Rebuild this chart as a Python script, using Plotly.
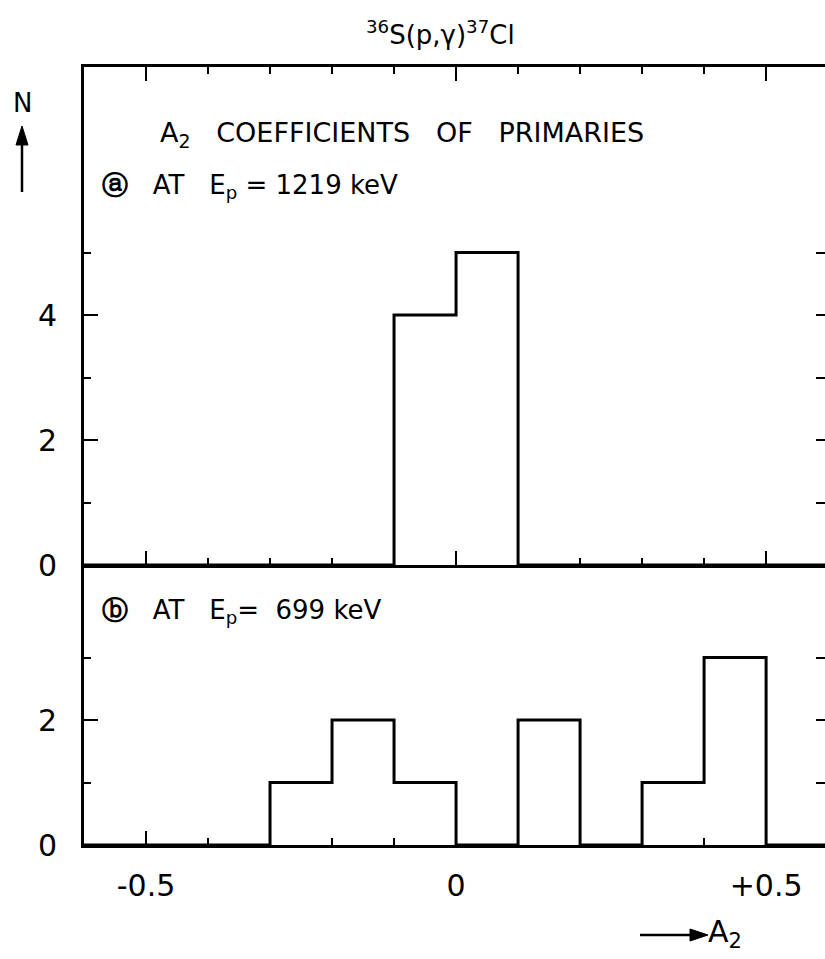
import plotly.graph_objects as go

# ---- data ----
bin_edges = [-0.6, -0.5, -0.4, -0.3, -0.2, -0.1, 0.0, 0.1, 0.2, 0.3, 0.4, 0.5, 0.6]
counts_a = [0, 0, 0, 0, 0, 4, 5, 0, 0, 0, 0, 0]   # (a) E_p = 1219 keV
counts_b = [0, 0, 0, 1, 2, 1, 0, 2, 0, 1, 3, 0]   # (b) E_p = 699 keV
x_major = [-0.5, 0, 0.5]
x_major_text = ["-0.5", "0", "+0.5"]
x_minor = [-0.4, -0.3, -0.2, -0.1, 0.1, 0.2, 0.3, 0.4]
ya_major = [0, 2, 4]
ya_minor = [1, 3, 5]
yb_major = [0, 2]
yb_minor = [1, 3]

# ---- geometry (pixels) ----
W, H = 825, 959
L, R, T, B = 84, 0, 67, 114
PW, PH = W - L - R, H - T - B
split_px = 565
bottom_frac = (H - B - split_px) / PH

def px(x):
    return (x - L) / PW

def py(y):
    return (H - B - y) / PH

def step(edges, counts):
    return list(edges), list(counts) + [0]

FONT = "DejaVu Sans"
LW = 2.6

fig = go.Figure()
xa, ya = step(bin_edges, counts_a)
xb, yb = step(bin_edges, counts_b)
fig.add_trace(go.Scatter(x=xa, y=ya, mode="lines", line=dict(shape="hv", color="black", width=3),
                         xaxis="x2", yaxis="y2", showlegend=False, hoverinfo="skip"))
fig.add_trace(go.Scatter(x=xb, y=yb, mode="lines", line=dict(shape="hv", color="black", width=3),
                         xaxis="x", yaxis="y", showlegend=False, hoverinfo="skip"))
# invisible traces to bind the right-hand tick axes
fig.add_trace(go.Scatter(x=[None], y=[None], xaxis="x2", yaxis="y3", showlegend=False, hoverinfo="skip"))
fig.add_trace(go.Scatter(x=[None], y=[None], xaxis="x", yaxis="y4", showlegend=False, hoverinfo="skip"))

xrange = [-0.6, 0.595]
tickfont = dict(family=FONT, size=30, color="black")
common_x = dict(range=xrange, showline=True, linecolor="black", linewidth=LW, showgrid=False,
                zeroline=False, ticks="inside", ticklen=14, tickwidth=2, tickcolor="black",
                tickvals=x_major,
                minor=dict(tickvals=x_minor, ticks="inside", ticklen=7, tickwidth=2, tickcolor="black"))

fig.update_layout(
    width=W, height=H, margin=dict(l=L, r=R, t=T, b=B),
    paper_bgcolor="white", plot_bgcolor="white", showlegend=False,
    xaxis=dict(common_x, anchor="y", domain=[0, 1], ticktext=x_major_text, tickfont=tickfont,
               showticklabels=True, mirror=False, ticklabelstandoff=12),
    xaxis2=dict(common_x, anchor="y2", domain=[0, 1], matches="x", showticklabels=False, mirror="ticks"),
    yaxis=dict(anchor="x", domain=[0, bottom_frac], range=[0, 4.48], showline=True, linecolor="black",
               linewidth=LW, showgrid=False, zeroline=False, ticks="inside", ticklen=14, tickwidth=2,
               tickcolor="black", tickvals=yb_major, tickfont=tickfont, ticklabelstandoff=18,
               minor=dict(tickvals=yb_minor, ticks="inside", ticklen=7, tickwidth=2, tickcolor="black")),
    yaxis2=dict(anchor="x2", domain=[bottom_frac, 1], range=[0, 7.97], showline=True, linecolor="black",
                linewidth=LW, showgrid=False, zeroline=False, ticks="inside", ticklen=14, tickwidth=2,
                tickcolor="black", tickvals=ya_major, tickfont=tickfont, ticklabelstandoff=18,
                minor=dict(tickvals=ya_minor, ticks="inside", ticklen=7, tickwidth=2, tickcolor="black")),
    yaxis3=dict(overlaying="y2", side="right", anchor="x2", range=[0, 7.97], showline=False,
                showgrid=False, zeroline=False, ticks="inside", ticklen=9, tickwidth=2,
                tickcolor="black", tickvals=ya_major + ya_minor, showticklabels=False),
    yaxis4=dict(overlaying="y", side="right", anchor="x", range=[0, 4.48], showline=False,
                showgrid=False, zeroline=False, ticks="inside", ticklen=9, tickwidth=2,
                tickcolor="black", tickvals=yb_major + yb_minor, showticklabels=False),
)

def text(x, y, s, size, xanchor="left", yanchor="middle"):
    fig.add_annotation(x=px(x), y=py(y), xref="paper", yref="paper", text=s, showarrow=False,
                       xanchor=xanchor, yanchor=yanchor,
                       font=dict(family=FONT, size=size, color="black"))

text(440, 33, "<sup>36</sup>S(p,γ)<sup>37</sup>Cl", 26, xanchor="center")
text(158, 134, "A<sub>2</sub>   COEFFICIENTS   OF   PRIMARIES", 27)
text(100, 186, "<b>ⓐ</b>   AT   E<sub>p</sub> = 1219 keV", 26)
text(100, 611, "<b>ⓑ</b>   AT   E<sub>p</sub>=  699 keV", 26)
text(22, 103, "N", 26, xanchor="center")
text(706, 933, "A<sub>2</sub>", 30)

# arrows drawn as shapes (pixel positions converted to paper)
def arrow_line(x0, y0, x1, y1):
    fig.add_shape(type="line", xref="paper", yref="paper", x0=px(x0), y0=py(y0), x1=px(x1), y1=py(y1),
                  line=dict(color="black", width=2.5))

def arrow_head(points):
    path = "M " + " L ".join(f"{px(a):.5f},{py(b):.5f}" for a, b in points) + " Z"
    fig.add_shape(type="path", xref="paper", yref="paper", path=path,
                  fillcolor="black", line=dict(color="black", width=1))

arrow_line(22, 192, 22, 140)
arrow_head([(22, 126), (16, 145), (28, 145)])
arrow_line(640, 935, 694, 935)
arrow_head([(708, 935), (690, 929), (690, 941)])

fig.write_html("out.html")
